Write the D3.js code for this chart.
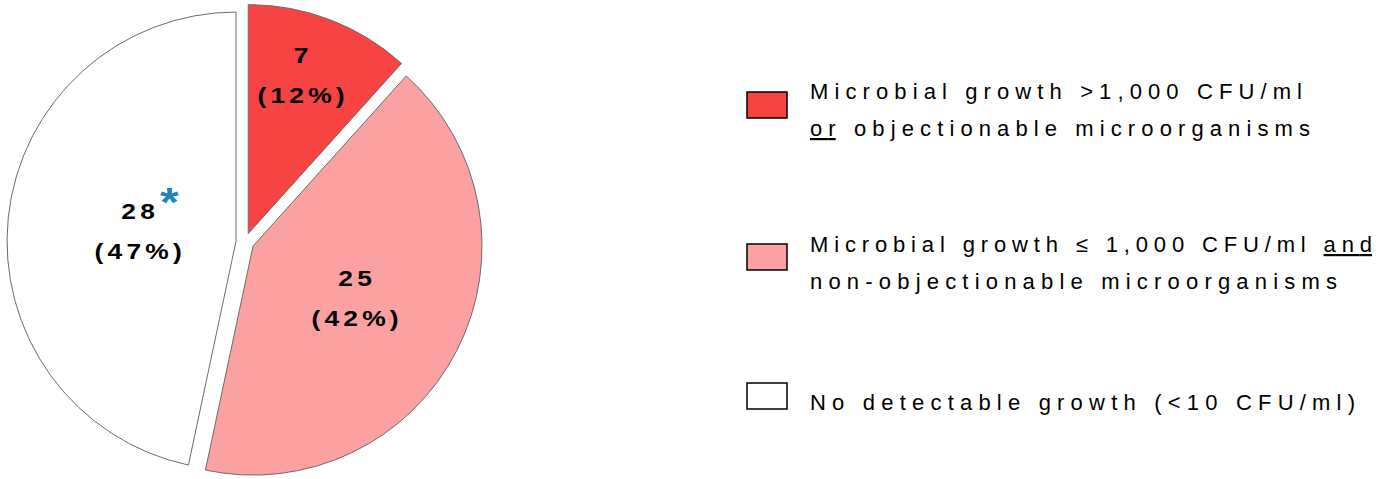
<!DOCTYPE html>
<html>
<head>
<meta charset="utf-8">
<script src="https://cdn.jsdelivr.net/npm/d3@7/dist/d3.min.js"></script>
<style>
  html, body { margin: 0; padding: 0; background: #fff; }
  svg { display: block; font-family: "Liberation Sans", Arial, sans-serif; }
</style>
</head>
<body>
<div id="pie-container"></div>
<script>
// data
var categories = ['high', 'low', 'none'];
var counts = [7, 25, 28];
var percentLabels = ['(12%)', '(42%)', '(47%)'];
var sliceColors = ['#f84343', '#fca1a1', '#ffffff'];
var legendLines = [
  [{ t: 'Microbial growth >1,000 CFU/ml' }],
  [{ t: 'o', u: true }, { t: 'r', u: true, last: true }, { t: ' objectionable microorganisms' }],
  [{ t: 'Microbial growth \u2264 1,000 CFU/ml ' }, { t: 'an', u: true }, { t: 'd', u: true, last: true }],
  [{ t: 'non-objectionable microorganisms' }],
  [{ t: 'No detectable growth (<10 CFU/ml)' }],
];
var legendGroups = [[0, 1], [2, 3], [4]];

var width = 1379;
var height = 479;

var render = function () {
  var svg = d3.select('#pie-container')
    .append('svg')
    .attr('width', width)
    .attr('height', height);

  var cx = 245;
  var cy = 242;
  var radius = 229;
  var explode = 9;
  // where excel dropped the data labels (fraction of radius, angle nudge)
  var labelPos = [0.73, 0.5, 0.43];
  var labelNudge = [-0.045, 0, 0];

  var pie = d3.pie().sort(null).value(d => d);
  var arcs = pie(counts);
  var arc = d3.arc().innerRadius(0).outerRadius(radius);

  var pieGroup = svg.append('g')
    .attr('transform', `translate(${cx},${cy})`);

  var slices = pieGroup.selectAll('.slice')
    .data(arcs)
    .enter()
    .append('g')
    .attr('class', 'slice')
    .attr('transform', function (d) {
      var mid = (d.startAngle + d.endAngle) / 2;
      return `translate(${Math.sin(mid) * explode},${-Math.cos(mid) * explode})`;
    });

  slices.append('path')
    .attr('d', arc)
    .attr('fill', (d, i) => sliceColors[i])
    .attr('stroke', '#6b6b6b')
    .attr('stroke-width', 1);

  var labels = slices.append('g')
    .attr('transform', function (d, i) {
      var r = radius * labelPos[i];
      var a = (d.startAngle + d.endAngle) / 2 + labelNudge[i];
      return `translate(${Math.sin(a) * r},${-Math.cos(a) * r}) scale(1.2,1)`;
    })
    .style('font-weight', 'bold')
    .style('font-size', '22px')
    .style('letter-spacing', '3.5px')
    .attr('text-anchor', 'middle')
    .attr('fill', '#000');

  labels.append('text')
    .attr('x', 1.75)
    .attr('y', -12)
    .text((d, i) => counts[i]);

  labels.append('text')
    .attr('x', 1.75)
    .attr('y', 28)
    .text((d, i) => percentLabels[i]);

  // blue asterisk next to the 28
  labels.filter((d, i) => categories[i] == 'none')
    .append('text')
    .attr('x', 26)
    .attr('y', -15)
    .attr('fill', '#1a86c6')
    .style('font-size', '40px')
    .style('letter-spacing', '0px')
    .text('*');

  // Legend
  var legendX = 747;
  var textX = 810;
  var boxTops = [92, 244, 383];
  var firstBaselines = [99, 252, 410];
  var lineWidths = [492, 500, 562, 527, 545];
  var lineGap = 37;

  var legend = svg.append('g').attr('class', 'legend');

  legendGroups.forEach(function (lines, g) {
    legend.append('rect')
      .attr('x', legendX)
      .attr('y', boxTops[g])
      .attr('width', 40)
      .attr('height', 26)
      .attr('fill', sliceColors[g])
      .attr('stroke', '#000')
      .attr('stroke-width', 1.5);

    lines.forEach(function (li, k) {
      var text = legend.append('text')
        .attr('x', textX)
        .attr('y', firstBaselines[g] + k * lineGap)
        .style('font-size', '22px')
        .style('letter-spacing', '0px')
        .attr('fill', '#000');

      var spans = text.selectAll('tspan')
        .data(legendLines[li])
        .enter()
        .append('tspan')
        .style('text-decoration', d => (d.u ? 'underline' : 'none'))
        .attr('xml:space', 'preserve')
        .text(d => d.t);

      // spread the letters out so the line is as wide as in the original
      var natural = text.node().getComputedTextLength();
      var nChars = legendLines[li].map(d => d.t).join('').length;
      var spacing = (lineWidths[li] - natural) / (nChars - 1);
      text.style('letter-spacing', spacing + 'px');

      // keep the underline from running on past the last underlined letter
      spans.filter(d => d.last).style('letter-spacing', '0px');
      spans.attr('dx', function (d, j) {
        var prev = legendLines[li][j - 1];
        return prev && prev.last ? spacing : 0;
      });
    });
  });
};

window.onload = render;
</script>
</body>
</html>
